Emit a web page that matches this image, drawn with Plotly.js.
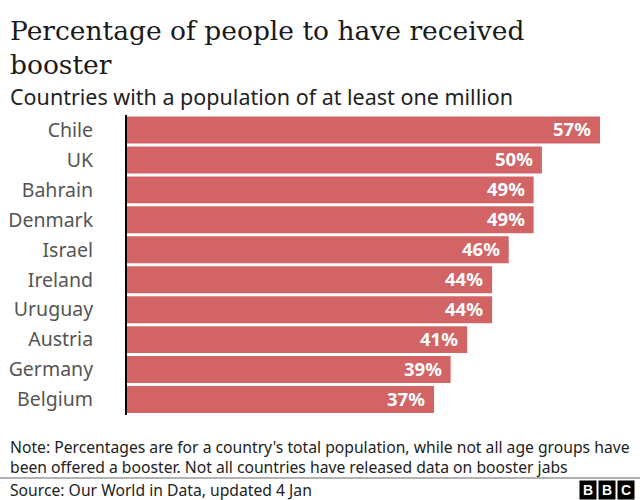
<!DOCTYPE html>
<html>
<head>
<meta charset="utf-8">
<script src="https://cdn.plot.ly/plotly-3.0.1.min.js"></script>
<style>html,body{margin:0;padding:0;background:#fff;}#chart{width:640px;height:500px;}</style>
</head>
<body>
<div id="chart"></div>
<script>
const countries = ["Chile","UK","Bahrain","Denmark","Israel","Ireland","Uruguay","Austria","Germany","Belgium"];
const boosterPct = [57,50,49,49,46,44,44,41,39,37];
const valueLabels = boosterPct.map(v => v + "%");

const SANS = "'Noto Sans', 'Open Sans', sans-serif";
const BBC = ["B","B","C"];

const trace = {
  type: "bar",
  orientation: "h",
  x: boosterPct,
  y: countries,
  marker: {color: "#d36466"},
  hoverinfo: "none"
};

const LX = -127/473 + 8/473;
const annotations = [
  {text: "Percentage of people to have received<br>booster", xref: "paper", yref: "paper",
   x: LX, y: (415-13)/300, xanchor: "left", yanchor: "top", align: "left", showarrow: false,
   font: {family: "'DejaVu Serif', serif", size: 26.5, color: "#1a1a1a"}},
  {text: "Countries with a population of at least one million", xref: "paper", yref: "paper",
   x: LX, y: (415-97)/300, xanchor: "left", yanchor: "middle", showarrow: false,
   font: {family: SANS, size: 21.5, color: "#222"}},
  {text: "Note: Percentages are for a country's total population, while not all age groups have<br>been offered a booster. Not all countries have released data on booster jabs",
   xref: "paper", yref: "paper", x: LX, y: (415-434)/300, xanchor: "left", yanchor: "top",
   align: "left", showarrow: false, font: {family: SANS, size: 15.7, color: "#222"}},
  {text: "Source: Our World in Data, updated 4 Jan", xref: "paper", yref: "paper",
   x: LX, y: (415-490)/300, xanchor: "left", yanchor: "middle", showarrow: false,
   font: {family: SANS, size: 15.7, color: "#222"}}
];
countries.forEach((c, i) => {
  annotations.push({text: "<b>" + valueLabels[i] + "</b>", xref: "x", yref: "y",
    x: boosterPct[i], y: c, xanchor: "right", yanchor: "middle", xshift: -7, yshift: 1,
    showarrow: false, font: {family: SANS, size: 18.5, color: "#fff"}});
});
BBC.forEach((ch, i) => {
  annotations.push({text: "<b>" + ch + "</b>", xref: "paper", yref: "paper",
    x: (579 + i*19 - 127)/473, y: (415-490)/300, xanchor: "left", yanchor: "middle",
    showarrow: false, bgcolor: "#000", width: 16, height: 18, borderpad: 0,
    font: {family: "Liberation Sans, Arial, sans-serif", size: 14, color: "#fff"}});
});

const layout = {
  width: 640, height: 500,
  margin: {l: 127, r: 40, t: 115, b: 85},
  paper_bgcolor: "#fff", plot_bgcolor: "#fff",
  bargap: 0.1,
  showlegend: false,
  xaxis: {range: [0, 57], visible: false, fixedrange: true},
  yaxis: {autorange: "reversed", showline: true, linecolor: "#000", linewidth: 2,
    showgrid: false, zeroline: false, ticks: "", ticklabelstandoff: 28,
    tickfont: {family: SANS, size: 19.5, color: "#555"}},
  shapes: [{type: "line", xref: "paper", yref: "paper", x0: -127/473, x1: 513/473,
    y0: (415-478)/300, y1: (415-478)/300, line: {color: "#999", width: 1.5}}],
  annotations: annotations
};

Plotly.newPlot("chart", [trace], layout, {staticPlot: true, displayModeBar: false});
</script>
</body>
</html>
